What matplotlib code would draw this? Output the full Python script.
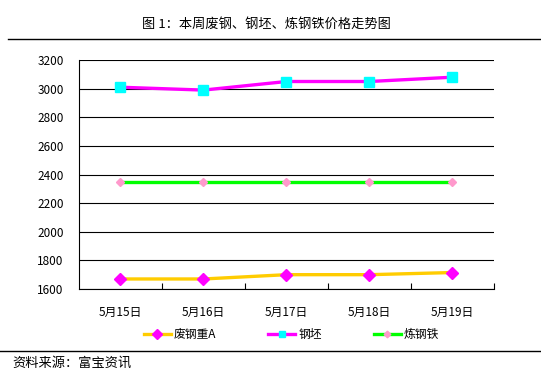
import numpy as np
import matplotlib.pyplot as plt
from matplotlib.lines import Line2D

plt.rcParams['font.family'] = ['Noto Sans CJK SC', 'DejaVu Sans']

# 数据
dias = ['5月15日', '5月16日', '5月17日', '5月18日', '5月19日']
feigang = [1670, 1670, 1700, 1700, 1715]      # 废钢重A
gangpi = [3010, 2990, 3050, 3050, 3080]       # 钢坯
liangangtie = [2345, 2345, 2345, 2345, 2345]  # 炼钢铁
yticks = [1600, 1800, 2000, 2200, 2400, 2600, 2800, 3000, 3200]

fig = plt.figure(figsize=(5.41, 3.80), dpi=100)
graf = fig.add_axes([0.146, 0.2395, 0.767, 0.6025])

x = np.arange(len(dias))
graf.plot(x, feigang, color='#FFCC00', lw=2.4, marker='D', ms=6.5,
          mfc='#FF00FF', mec='#FF00FF', label='废钢重A', zorder=3)
graf.plot(x, gangpi, color='#FF00FF', lw=2.4, marker='s', ms=6.5,
          mfc='#00FFFF', mec='#00FFFF', label='钢坯', zorder=3)
graf.plot(x, liangangtie, color='#00FF00', lw=2.4, marker='D', ms=4.5,
          mfc='#FF99CC', mec='#FF99CC', label='炼钢铁', zorder=3)

graf.set_xlim(-0.5, len(dias) - 0.5)
graf.set_ylim(1600, 3200)
graf.set_yticks(yticks)
graf.set_xticks(x)
graf.set_xticklabels(dias)
graf.set_xticks(np.arange(len(dias)) + 0.5, minor=True)
graf.tick_params(axis='x', which='major', length=0, pad=12, labelsize=8.5)
graf.tick_params(axis='x', which='minor', length=4, direction='in', width=0.8)
graf.tick_params(axis='y', length=0, pad=11, labelsize=8.5)
graf.grid(True, axis='y', color='black', linewidth=0.8)
graf.set_axisbelow(True)
for lado in ['top', 'right']:
    graf.spines[lado].set_visible(False)
for lado in ['left', 'bottom']:
    graf.spines[lado].set_linewidth(0.8)

graf.legend(loc='upper center', bbox_to_anchor=(0.512, -0.125), ncol=3,
            frameon=False, fontsize=8.5, handlelength=2.3, columnspacing=4.4,
            handletextpad=0.25, markerscale=0.75)

# título e rodapé
fig.text(0.492, 0.935, '图 1：本周废钢、钢坯、炼钢铁价格走势图', ha='center',
         va='center', fontsize=9.5)
fig.add_artist(Line2D([0.015, 1.0], [0.897, 0.897], color='black', lw=1))
fig.add_artist(Line2D([0.0, 1.0], [0.076, 0.076], color='black', lw=1))
fig.text(0.022, 0.045, '资料来源：富宝资讯', ha='left', va='center', fontsize=9.5)

fig.savefig('out.png')
plt.close()
